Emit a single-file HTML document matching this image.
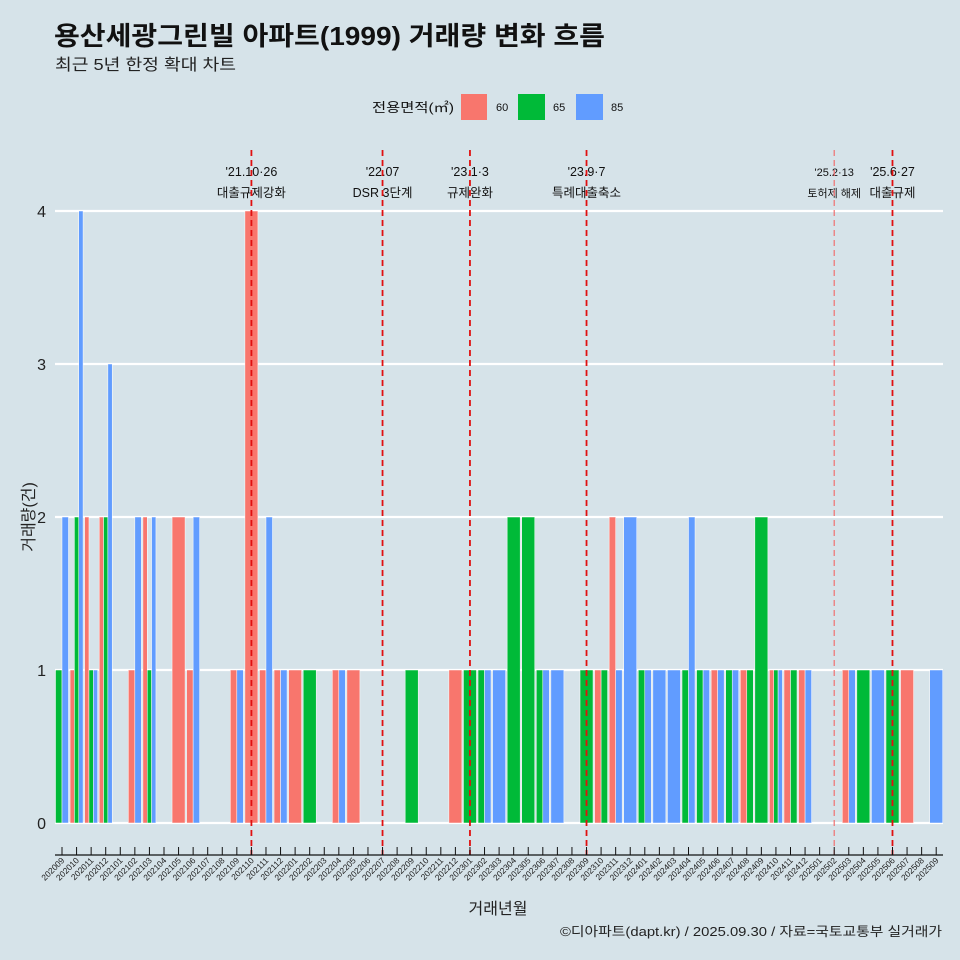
<!DOCTYPE html>
<html><head><meta charset="utf-8"><style>
body{margin:0;background:#d6e3e9;}
svg{display:block;font-family:"Liberation Sans","Noto Sans CJK KR",sans-serif;}
</style></head><body>
<svg id="chart" width="960" height="960" viewBox="0 0 960 960" xmlns="http://www.w3.org/2000/svg">
<rect x="0" y="0" width="960" height="960" fill="#d6e3e9"/>
<text x="54" y="45" font-size="26" font-weight="bold" fill="#111" textLength="551" lengthAdjust="spacingAndGlyphs">용산세광그린빌 아파트(1999) 거래량 변화 흐름</text>
<text x="55" y="70" font-size="16" fill="#222" textLength="181" lengthAdjust="spacingAndGlyphs">최근 5년 한정 확대 차트</text>
<g>
<text x="372" y="112" font-size="13" fill="#111" textLength="82" lengthAdjust="spacingAndGlyphs">전용면적(㎡)</text>
<rect x="461" y="94" width="26" height="26" fill="#f8766d"/>
<text x="496" y="111" font-size="11" fill="#111">60</text>
<rect x="518" y="94" width="27" height="26" fill="#00ba38"/>
<text x="553" y="111" font-size="11" fill="#111">65</text>
<rect x="576" y="94" width="27" height="26" fill="#619cff"/>
<text x="611" y="111" font-size="11" fill="#111">85</text>
</g>
<g id="grid"></g><g id="bars"></g><g id="events"></g><g id="xaxis"></g><g id="yaxis"></g>
<text x="0" y="0" transform="translate(34,517) rotate(-90)" text-anchor="middle" font-size="16" fill="#222">거래량(건)</text>
<text x="498" y="914" text-anchor="middle" font-size="16" fill="#222">거래년월</text>
<text x="560" y="936" font-size="13" fill="#222" textLength="382" lengthAdjust="spacingAndGlyphs">©디아파트(dapt.kr) / 2025.09.30 / 자료=국토교통부 실거래가</text>
</svg>
<script>
const months = [];
for (let y = 2020, m = 9; months.length < 61; ) { months.push(y + String(m).padStart(2,'0')); m++; if (m > 12) { m = 1; y++; } }
const yTicks = [0,1,2,3,4];
// [monthIndex, count]
const area60 = [[1,1],[2,2],[3,2],[5,1],[6,2],[8,2],[9,1],[12,1],[13,4],[14,1],[15,1],[16,1],[19,1],[20,1],[27,1],[37,1],[38,2],[45,1],[47,1],[49,1],[50,1],[51,1],[54,1],[58,1]];
const area65 = [[0,1],[1,2],[2,1],[3,2],[6,1],[17,1],[24,1],[28,1],[29,1],[31,2],[32,2],[33,1],[36,1],[37,1],[40,1],[43,1],[44,1],[46,1],[47,1],[48,2],[49,1],[50,1],[55,1],[57,1]];
const area85 = [[0,2],[1,4],[2,1],[3,3],[5,2],[6,2],[9,2],[12,1],[14,2],[15,1],[19,1],[29,1],[30,1],[33,1],[34,1],[38,1],[39,2],[40,1],[41,1],[42,1],[43,2],[44,1],[45,1],[46,1],[49,1],[51,1],[54,1],[56,1],[60,1]];
const eventMonths = ['202110','202207','202301','202309','202502','202506'];
const eventDates = ["'21.10·26","'22.07","'23.1·3","'23.9·7","'25.2·13","'25.6·27"];
const eventLabels = ['대출규제강화','DSR 3단계','규제완화','특례대출축소','토허제 해제','대출규제'];

const NS = 'http://www.w3.org/2000/svg';
const x0 = 62, step = 14.57, y0 = 823, unit = 153, bw = 13, left = 55, right = 943;
const xS = i => x0 + step * i;
const yS = v => y0 - unit * v;
function mk(tag, attrs, parent) { const e = document.createElementNS(NS, tag); for (const k in attrs) e.setAttribute(k, attrs[k]); document.getElementById(parent).appendChild(e); return e; }

yTicks.forEach(t => {
  const l = mk('line', {x1:left, x2:right, y1:yS(t), y2:yS(t), stroke:'#fff', 'stroke-width':2.2}, 'grid');
  
  
  const tx = mk('text', {x:46, y:yS(t)+6, 'text-anchor':'end', 'font-size':16, fill:'#222'}, 'yaxis');
  tx.textContent = t;
  
  
});

const series = [['60', area60, '#f8766d'], ['65', area65, '#00ba38'], ['85', area85, '#619cff']];
months.forEach((mo, i) => {
  const present = series.map(s => [s[0], s[1].find(d => d[0] === i), s[2]]).filter(s => s[1]);
  const w = bw / present.length;
  present.forEach((s, j) => {
    const v = s[1][1];
    const r = mk('rect', {x: xS(i) - bw/2 + j*w, y: yS(v), width: w, height: unit*v, fill: s[2], stroke:'#fff', 'stroke-width':0.5}, 'bars');
    
    
  });
});

eventMonths.forEach((mo, k) => {
  const x = xS(months.indexOf(mo));
  const minor = k === 4;
  const fs = minor ? 11 : 12.5;
  const t1 = mk('text', {x:x, y:176, 'text-anchor':'middle', 'font-size':fs, fill:'#111'}, 'events');
  t1.textContent = eventDates[k];
  
  
  const t2 = mk('text', {x:x, y:197, 'text-anchor':'middle', 'font-size':fs, fill:'#111'}, 'events');
  t2.textContent = eventLabels[k];
  
  
  const l = mk('line', {x1:x, x2:x, y1:150, y2:855, stroke: minor ? '#f07070' : '#e01010', 'stroke-width': minor ? 1.2 : 1.8, 'stroke-dasharray':'6,4'}, 'events');
  
  
});

const ax = mk('line', {x1:left, x2:right, y1:855, y2:855, stroke:'#111', 'stroke-width':1.2}, 'xaxis');


months.forEach((mo, i) => {
  const x = xS(i);
  const tk = mk('line', {x1:x, x2:x, y1:847, y2:855, stroke:'#111', 'stroke-width':1}, 'xaxis');
  
  
  const t = mk('text', {x:0, y:0, transform:'translate(' + (x+3) + ',861) rotate(-45)', 'text-anchor':'end', 'font-size':8.5, fill:'#222'}, 'xaxis');
  t.textContent = mo;
  
  
});
</script>
</body></html>
